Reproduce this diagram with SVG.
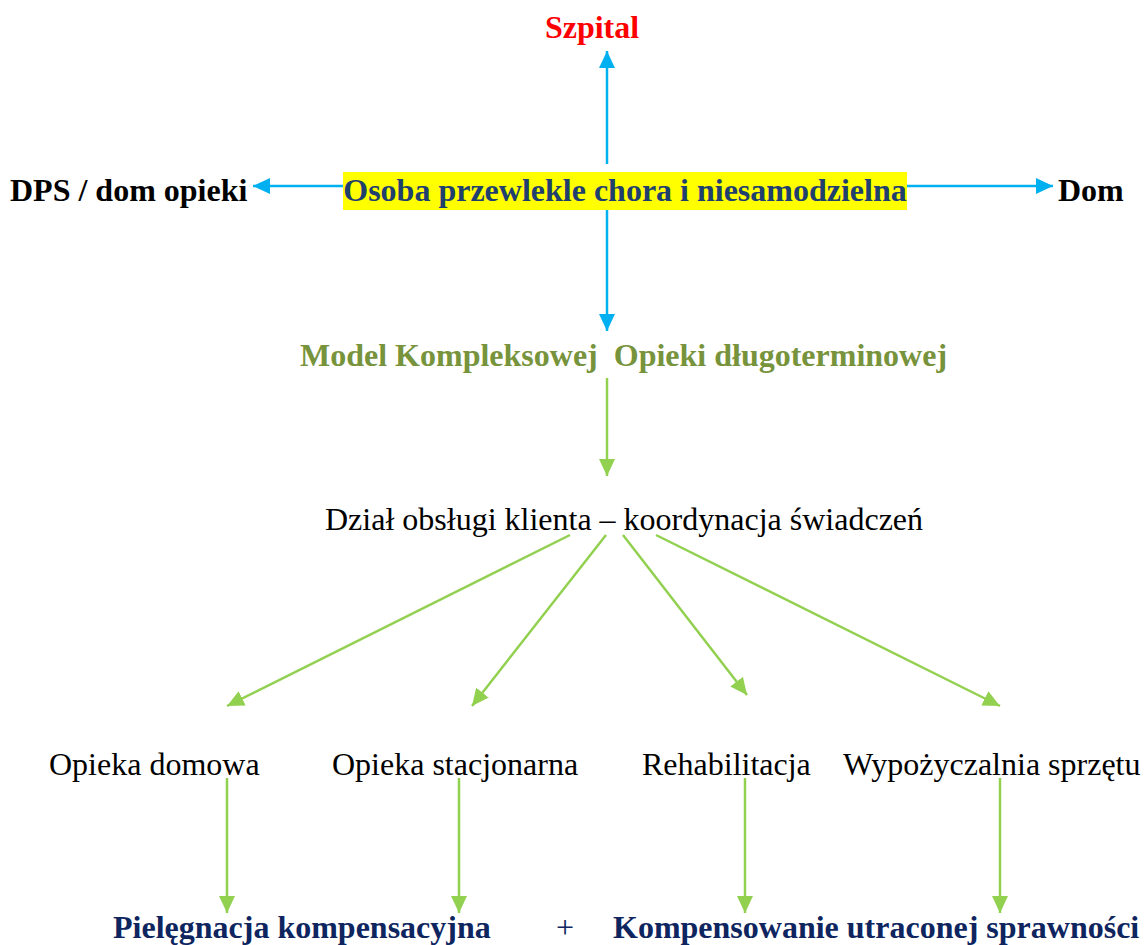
<svg xmlns="http://www.w3.org/2000/svg" width="1146" height="945" viewBox="0 0 1146 945">
  <defs>
    <marker id="arrBlue" viewBox="0 0 17 16" refX="17" refY="8" markerWidth="17" markerHeight="16" markerUnits="userSpaceOnUse" orient="auto">
      <path d="M0,0 L17,8 L0,16 z" fill="#00B0F0"/>
    </marker>
    <marker id="arrGreen" viewBox="0 0 17 16" refX="17" refY="8" markerWidth="17" markerHeight="16" markerUnits="userSpaceOnUse" orient="auto">
      <path d="M0,0 L17,8 L0,16 z" fill="#92D050"/>
    </marker>
  </defs>
  <style>
    text { font-family: "Liberation Serif", "Times New Roman", serif; font-size: 32px; }
    .b { font-weight: bold; }
    .blue { stroke: #00B0F0; stroke-width: 2.5; fill: none; marker-end: url(#arrBlue); }
    .green { stroke: #92D050; stroke-width: 2.5; fill: none; marker-end: url(#arrGreen); }
    .navy { fill: #0E2560; }
  </style>
  <rect width="1146" height="945" fill="#ffffff"/>

  <!-- connectors -->
  <g id="connectors">
    <line class="blue" x1="607" y1="164" x2="607" y2="51"/>
    <line class="blue" x1="343" y1="186" x2="253" y2="186"/>
    <line class="blue" x1="907" y1="186" x2="1053" y2="186"/>
    <line class="blue" x1="607" y1="210" x2="607" y2="331"/>
    <line class="green" x1="607" y1="378" x2="607" y2="476"/>
    <line class="green" x1="570" y1="535" x2="227" y2="706"/>
    <line class="green" x1="606" y1="535" x2="472" y2="706"/>
    <line class="green" x1="623" y1="535" x2="747" y2="695"/>
    <line class="green" x1="656" y1="535" x2="1000" y2="706"/>
    <line class="green" x1="227" y1="778" x2="227" y2="913"/>
    <line class="green" x1="459" y1="778" x2="459" y2="913"/>
    <line class="green" x1="745" y1="778" x2="745" y2="913"/>
    <line class="green" x1="1000" y1="778" x2="1000" y2="913"/>
  </g>

  <!-- nodes -->
  <g id="szpital">
    <text class="b" x="592" y="38" text-anchor="middle" fill="#FF0000">Szpital</text>
  </g>
  <g id="osoba">
    <rect x="343" y="172" width="564" height="38" fill="#FFFF00"/>
    <text class="b" x="625" y="201" text-anchor="middle" fill="#1F3F6E">Osoba przewlekle chora i niesamodzielna</text>
  </g>
  <g id="dps">
    <text class="b" x="10" y="201" fill="#000000">DPS / dom opieki</text>
  </g>
  <g id="dom">
    <text class="b" x="1058" y="201" fill="#000000">Dom</text>
  </g>
  <g id="model">
    <text class="b" x="300" y="366" fill="#77933C" xml:space="preserve">Model Kompleksowej  Opieki długoterminowej</text>
  </g>
  <g id="dzial">
    <text x="325" y="530" fill="#000000">Dział obsługi klienta – koordynacja świadczeń</text>
  </g>
  <g id="opieka-domowa">
    <text x="49" y="775" fill="#000000">Opieka domowa</text>
  </g>
  <g id="opieka-stacjonarna">
    <text x="332" y="775" fill="#000000">Opieka stacjonarna</text>
  </g>
  <g id="rehabilitacja">
    <text x="642" y="775" fill="#000000">Rehabilitacja</text>
  </g>
  <g id="wypozyczalnia">
    <text x="843" y="775" fill="#000000">Wypożyczalnia sprzętu</text>
  </g>
  <g id="pielegnacja">
    <text class="b navy" x="113" y="938">Pielęgnacja kompensacyjna</text>
  </g>
  <g id="plus">
    <text class="navy" x="565" y="938" text-anchor="middle">+</text>
  </g>
  <g id="kompensowanie">
    <text class="b navy" x="613" y="938">Kompensowanie utraconej sprawności</text>
  </g>
</svg>
